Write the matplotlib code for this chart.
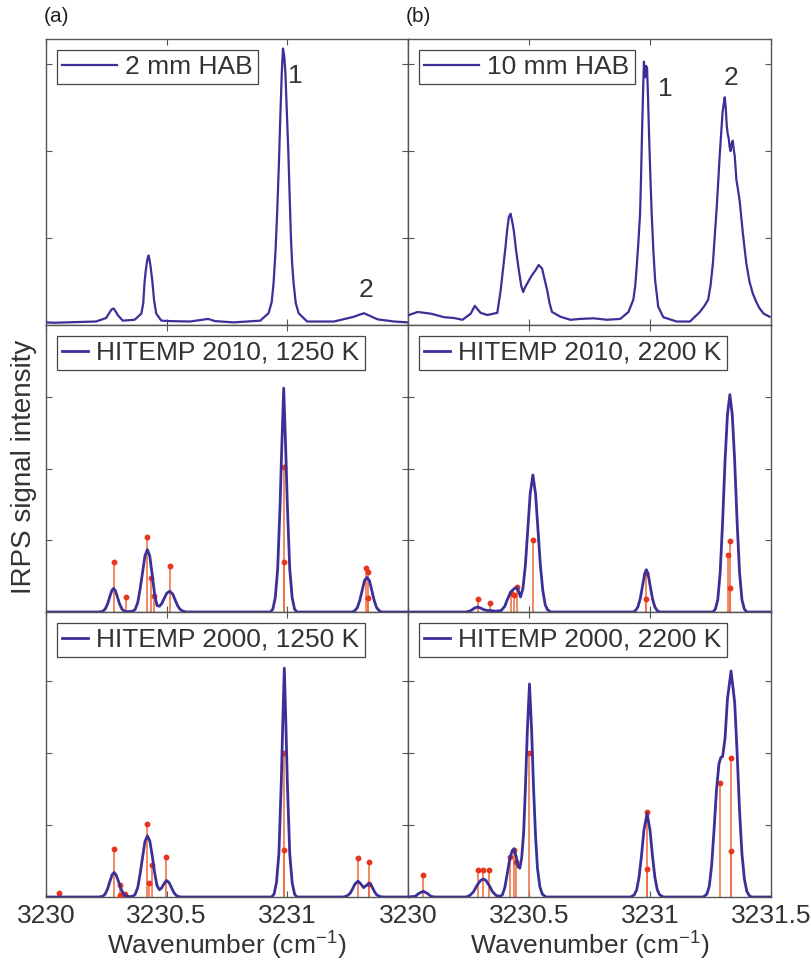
import matplotlib
matplotlib.use('Agg')
import matplotlib.pyplot as plt

plt.rcParams['font.family'] = ['Liberation Sans', 'DejaVu Sans']
plt.rcParams['mathtext.fontset'] = 'custom'
plt.rcParams['mathtext.rm'] = 'Liberation Sans'
plt.rcParams['mathtext.it'] = 'Liberation Sans'

# measured spectra (wavenumber, signal)
w_2mm = [3230.000, 3230.033, 3230.207, 3230.249, 3230.2625, 3230.272, 3230.280, 3230.288,
         3230.297, 3230.318, 3230.367, 3230.395, 3230.403, 3230.408, 3230.413, 3230.417,
         3230.421, 3230.425, 3230.429, 3230.433, 3230.440, 3230.448, 3230.457,
         3230.478, 3230.5125, 3230.596, 3230.672, 3230.700, 3230.776, 3230.8875, 3230.922,
         3230.935, 3230.943, 3230.951, 3230.958, 3230.965, 3230.971, 3230.977, 3230.982,
         3230.987, 3230.992, 3230.998, 3231.004, 3231.010, 3231.015, 3231.020, 3231.026,
         3231.035, 3231.047, 3231.082, 3231.193, 3231.276, 3231.300, 3231.318, 3231.346,
         3231.374, 3231.443, 3231.500]
s_2mm = [0.03, 0.026, 0.04, 0.08, 0.14, 0.18, 0.19, 0.16,
         0.115, 0.05, 0.06, 0.13, 0.25, 0.48, 0.62, 0.70,
         0.77, 0.80, 0.75, 0.68, 0.52, 0.28, 0.13,
         0.05, 0.045, 0.04, 0.07, 0.045, 0.03, 0.05, 0.135,
         0.26, 0.48, 0.85, 1.3, 1.85, 2.4, 2.9, 3.18,
         3.1, 2.9, 2.45, 2.0, 1.45, 1.0, 0.7, 0.48,
         0.25, 0.135, 0.04, 0.04, 0.095, 0.12, 0.135, 0.10,
         0.065, 0.04, 0.03]

w_10mm = [3230.004, 3230.040, 3230.095, 3230.149, 3230.191, 3230.225, 3230.259, 3230.276,
          3230.300, 3230.328, 3230.369, 3230.383, 3230.389, 3230.395, 3230.403, 3230.410,
          3230.417, 3230.424, 3230.430, 3230.437, 3230.447, 3230.458, 3230.468, 3230.476,
          3230.483, 3230.493, 3230.503, 3230.513, 3230.527, 3230.540, 3230.554, 3230.565,
          3230.575, 3230.585, 3230.595, 3230.630, 3230.671, 3230.712, 3230.767, 3230.822,
          3230.877, 3230.911, 3230.931, 3230.939, 3230.945, 3230.952, 3230.959, 3230.963,
          3230.967, 3230.971, 3230.975, 3230.978, 3230.981, 3230.984, 3230.988, 3230.992,
          3230.996, 3231.001, 3231.007, 3231.014, 3231.021, 3231.034, 3231.055, 3231.110,
          3231.165, 3231.206, 3231.225, 3231.240, 3231.250, 3231.260, 3231.267, 3231.274,
          3231.281, 3231.288, 3231.294, 3231.300, 3231.305, 3231.309, 3231.313, 3231.317,
          3231.321, 3231.325, 3231.329, 3231.333, 3231.337, 3231.342, 3231.346, 3231.350,
          3231.357, 3231.364, 3231.370, 3231.384, 3231.398, 3231.411, 3231.425, 3231.440,
          3231.453, 3231.470, 3231.494]
s_10mm = [0.115, 0.15, 0.13, 0.09, 0.08, 0.06, 0.13, 0.22,
          0.14, 0.115, 0.14, 0.40, 0.55, 0.70, 0.90, 1.1,
          1.245, 1.28, 1.2, 1.09, 0.85, 0.63, 0.45, 0.38,
          0.43, 0.48, 0.53, 0.575, 0.63, 0.69, 0.65, 0.52,
          0.40, 0.25, 0.15, 0.095, 0.06, 0.07, 0.077, 0.06,
          0.07, 0.15, 0.29, 0.45, 0.67, 0.95, 1.28, 1.7,
          2.2, 2.65, 3.03, 2.9, 2.85, 2.98, 2.95, 2.6,
          2.2, 1.75, 1.28, 0.85, 0.52, 0.21, 0.09, 0.04,
          0.04, 0.15, 0.22, 0.29, 0.45, 0.71, 1.0, 1.28,
          1.6, 1.95, 2.2, 2.45, 2.55, 2.62, 2.5, 2.30,
          2.2, 2.15, 2.05, 2.00, 2.08, 2.12, 2.02, 1.95,
          1.67, 1.55, 1.44, 1.05, 0.71, 0.5, 0.36, 0.26,
          0.19, 0.13, 0.095]

# simulated spectra
w_10_1250 = [3230.00, 3230.22, 3230.235, 3230.245, 3230.255, 3230.265, 3230.273, 3230.28,
             3230.287, 3230.295, 3230.305, 3230.315, 3230.325, 3230.335, 3230.36, 3230.37,
             3230.38, 3230.39, 3230.40, 3230.41, 3230.42, 3230.43, 3230.44, 3230.45,
             3230.46, 3230.47, 3230.48, 3230.49, 3230.50, 3230.5125, 3230.525, 3230.535,
             3230.545, 3230.555, 3230.565, 3230.58, 3230.93, 3230.94, 3230.95, 3230.96,
             3230.97, 3230.977, 3230.985, 3230.993, 3231.00, 3231.01, 3231.02, 3231.03,
             3231.04, 3231.27, 3231.28, 3231.29, 3231.30, 3231.31, 3231.32, 3231.33,
             3231.34, 3231.35, 3231.36, 3231.37, 3231.38, 3231.39, 3231.50]
s_10_1250 = [0, 0, 0.01, 0.04, 0.11, 0.22, 0.30, 0.33,
             0.30, 0.22, 0.11, 0.04, 0.012, 0.005, 0.01, 0.04,
             0.13, 0.32, 0.55, 0.78, 0.87, 0.78, 0.52, 0.25,
             0.09, 0.08, 0.12, 0.19, 0.26, 0.29, 0.25, 0.17,
             0.09, 0.04, 0.015, 0, 0, 0.04, 0.2, 0.6,
             1.5, 2.3, 3.12, 2.3, 1.5, 0.6, 0.2, 0.04,
             0, 0, 0.02, 0.06, 0.16, 0.30, 0.44, 0.48,
             0.44, 0.30, 0.16, 0.06, 0.02, 0, 0]

w_10_2200 = [3230.00, 3230.24, 3230.26, 3230.275, 3230.288, 3230.30, 3230.315, 3230.33,
             3230.345, 3230.36, 3230.385, 3230.40, 3230.41, 3230.425, 3230.44, 3230.45,
             3230.458, 3230.465, 3230.475, 3230.485, 3230.495, 3230.505, 3230.516, 3230.527,
             3230.537, 3230.547, 3230.557, 3230.567, 3230.577, 3230.59, 3230.93, 3230.94,
             3230.95, 3230.96, 3230.97, 3230.978, 3230.985, 3230.992, 3231.00, 3231.01,
             3231.02, 3231.03, 3231.04, 3231.26, 3231.27, 3231.28, 3231.29, 3231.30,
             3231.31, 3231.32, 3231.33, 3231.34, 3231.35, 3231.36, 3231.37, 3231.38,
             3231.39, 3231.40, 3231.50]
s_10_2200 = [0, 0, 0.02, 0.055, 0.07, 0.055, 0.03, 0.02,
             0.02, 0.01, 0.02, 0.08, 0.17, 0.28, 0.33, 0.34,
             0.28, 0.21, 0.33, 0.65, 1.15, 1.65, 1.91, 1.65,
             1.15, 0.65, 0.30, 0.10, 0.03, 0, 0, 0.02,
             0.07, 0.19, 0.38, 0.53, 0.59, 0.53, 0.38, 0.19,
             0.07, 0.02, 0, 0, 0.04, 0.17, 0.55, 1.25,
             2.1, 2.75, 3.03, 2.75, 2.1, 1.25, 0.55, 0.17,
             0.04, 0, 0]

w_00_1250 = [3230.00, 3230.22, 3230.235, 3230.245, 3230.255, 3230.265, 3230.274, 3230.282,
             3230.29, 3230.30, 3230.31, 3230.32, 3230.33, 3230.345, 3230.36, 3230.37,
             3230.38, 3230.39, 3230.40, 3230.41, 3230.42, 3230.43, 3230.44, 3230.45,
             3230.46, 3230.47, 3230.48, 3230.49, 3230.499, 3230.51, 3230.52, 3230.53,
             3230.54, 3230.555, 3230.935, 3230.945, 3230.955, 3230.965, 3230.975, 3230.981,
             3230.9875, 3230.994, 3231.00, 3231.01, 3231.02, 3231.03, 3231.04, 3231.23,
             3231.245, 3231.26, 3231.27, 3231.28, 3231.293, 3231.305, 3231.316, 3231.327,
             3231.339, 3231.35, 3231.36, 3231.37, 3231.385, 3231.40, 3231.50]
s_00_1250 = [0, 0, 0.01, 0.04, 0.11, 0.22, 0.31, 0.34,
             0.31, 0.22, 0.12, 0.05, 0.015, 0.005, 0.01, 0.04,
             0.13, 0.32, 0.55, 0.77, 0.85, 0.78, 0.58, 0.34,
             0.16, 0.10, 0.13, 0.19, 0.23, 0.20, 0.13, 0.06,
             0.02, 0, 0, 0.04, 0.2, 0.6, 1.6, 2.4,
             3.18, 2.4, 1.6, 0.6, 0.2, 0.04, 0, 0,
             0.01, 0.05, 0.11, 0.18, 0.22, 0.18, 0.13, 0.16,
             0.19, 0.15, 0.08, 0.03, 0.005, 0, 0]

w_00_2200 = [3230.00, 3230.03, 3230.045, 3230.063, 3230.08, 3230.095, 3230.11, 3230.24,
             3230.255, 3230.27, 3230.285, 3230.30, 3230.311, 3230.322, 3230.337, 3230.35,
             3230.365, 3230.38, 3230.39, 3230.40, 3230.41, 3230.42, 3230.43, 3230.438,
             3230.447, 3230.455, 3230.462, 3230.47, 3230.478, 3230.485, 3230.493, 3230.502,
             3230.511, 3230.519, 3230.527, 3230.535, 3230.545, 3230.555, 3230.57, 3230.92,
             3230.935, 3230.945, 3230.955, 3230.965, 3230.975, 3230.988, 3231.00, 3231.01,
             3231.02, 3231.03, 3231.04, 3231.055, 3231.22, 3231.235, 3231.245, 3231.255,
             3231.265, 3231.275, 3231.285, 3231.293, 3231.30, 3231.31, 3231.32, 3231.335,
             3231.35, 3231.36, 3231.37, 3231.38, 3231.39, 3231.40, 3231.41, 3231.42,
             3231.50]
s_00_2200 = [0.0, 0.01, 0.05, 0.08, 0.05, 0.01, 0, 0,
             0.02, 0.07, 0.16, 0.23, 0.25, 0.23, 0.15, 0.07,
             0.02, 0.01, 0.03, 0.13, 0.32, 0.52, 0.64, 0.67,
             0.56, 0.42, 0.40, 0.55, 0.9, 1.5, 2.3, 2.96,
             2.3, 1.5, 0.85, 0.4, 0.14, 0.04, 0, 0,
             0.03, 0.1, 0.28, 0.58, 0.93, 1.16, 0.93, 0.58,
             0.28, 0.1, 0.03, 0, 0, 0.04, 0.15, 0.45,
             0.95, 1.5, 1.85, 1.94, 1.95, 2.2, 2.75, 3.14,
             2.7, 2.0, 1.2, 0.6, 0.25, 0.08, 0.02, 0,
             0]

# line positions / intensities (sticks)
lw_10_1250 = [3230.280, 3230.330, 3230.418, 3230.435, 3230.446, 3230.5125, 3230.985, 3230.985,
              3231.324, 3231.333, 3231.335]
lh_10_1250 = [0.69, 0.205, 1.05, 0.48, 0.22, 0.64, 2.02, 0.69, 0.62, 0.56, 0.19]

lw_10_2200 = [3230.288, 3230.337, 3230.424, 3230.440, 3230.451, 3230.516, 3230.985, 3230.985,
              3231.321, 3231.332, 3231.332]
lh_10_2200 = [0.185, 0.125, 0.265, 0.23, 0.35, 1.01, 0.54, 0.185, 0.80, 0.99, 0.34]

lw_00_1250 = [3230.054, 3230.282, 3230.305, 3230.305, 3230.328, 3230.417, 3230.425, 3230.438,
              3230.499, 3230.9875, 3230.9875, 3231.293, 3231.339, 3231.339]
lh_00_1250 = [0.05, 0.67, 0.16, 0.03, 0.04, 1.02, 0.19, 0.45, 0.55, 2.0, 0.66, 0.54, 0.48, 0.18]

lw_00_2200 = [3230.063, 3230.289, 3230.311, 3230.333, 3230.423, 3230.438, 3230.446, 3230.502,
              3230.988, 3230.988, 3231.291, 3231.335, 3231.335]
lh_00_2200 = [0.30, 0.38, 0.38, 0.38, 0.56, 0.66, 0.48, 2.0, 1.18, 0.39, 1.58, 1.93, 0.64]

legend_txt = [['2 mm HAB', '10 mm HAB'],
              ['HITEMP 2010, 1250 K', 'HITEMP 2010, 2200 K'],
              ['HITEMP 2000, 1250 K', 'HITEMP 2000, 2200 K']]

blue = '#3b2f98'
orange = '#f36a3c'
red = '#e8351d'
gray = '#555555'
fs = 19

fig = plt.figure(figsize=(8.12, 9.68), dpi=100)

lefts = [46 / 812, 408 / 812]
widths = [362 / 812, 363 / 812]
bottoms = [1 - 325 / 968, 1 - 612 / 968, 1 - 897 / 968]
heights = [286 / 968, 287 / 968, 285 / 968]
ytops = [3.29, 4.0, 3.96]

curves = [[(w_2mm, s_2mm), (w_10mm, s_10mm)],
          [(w_10_1250, s_10_1250), (w_10_2200, s_10_2200)],
          [(w_00_1250, s_00_1250), (w_00_2200, s_00_2200)]]
sticks = [[None, None],
          [(lw_10_1250, lh_10_1250), (lw_10_2200, lh_10_2200)],
          [(lw_00_1250, lh_00_1250), (lw_00_2200, lh_00_2200)]]

for r in range(3):
    for c in range(2):
        ax = fig.add_axes([lefts[c], bottoms[r], widths[c], heights[r]])
        if sticks[r][c] is not None:
            sw, sh = sticks[r][c]
            ax.vlines(sw, 0, sh, color=orange, lw=1.1, zorder=2)
            ax.plot(sw, sh, 'o', color=red, ms=3.2, zorder=3)
        x, y = curves[r][c]
        ax.plot(x, y, color=blue, lw=1.6 if r == 0 else 2.0, zorder=4,
                label=legend_txt[r][c])
        ax.set_xlim(3230, 3231.5)
        ax.set_ylim(0, ytops[r])
        ax.set_xticks([3230, 3230.5, 3231, 3231.5])
        ax.set_yticks([1, 2, 3])
        ax.set_yticklabels([])
        if r == 2:
            if c == 0:
                ax.set_xticklabels(['3230', '3230.5', '3231', ''])
            else:
                ax.set_xticklabels(['3230', '3230.5', '3231', '3231.5'])
            ax.set_xlabel('Wavenumber (cm$^{-1}$)', fontsize=fs, color='#333333', labelpad=1)
        else:
            ax.set_xticklabels([])
        ax.tick_params(direction='in', length=4, width=0.8, color=gray,
                       top=True, right=True, labelsize=fs, labelcolor='#333333', pad=5)
        for sp in ax.spines.values():
            sp.set_color(gray)
            sp.set_linewidth(1.0)
        leg = ax.legend(loc='upper left', fontsize=fs, handlelength=2.1 if r == 0 else 1.0,
                        handletextpad=0.3, borderpad=0.2, borderaxespad=0.4,
                        fancybox=False, framealpha=1, edgecolor='#444444')
        leg.get_frame().set_linewidth(0.9)
        for t in leg.get_texts():
            t.set_color('#333333')
        if r == 0 and c == 0:
            ax.text(3231.033, 2.87, '1', fontsize=fs, color='#333333', ha='center', va='center')
            ax.text(3231.325, 0.40, '2', fontsize=fs, color='#333333', ha='center', va='center')
        if r == 0 and c == 1:
            ax.text(3231.062, 2.72, '1', fontsize=fs, color='#333333', ha='center', va='center')
            ax.text(3231.333, 2.84, '2', fontsize=fs, color='#333333', ha='center', va='center')

fig.text(44 / 812, 1 - 17 / 968, '(a)', fontsize=15, color='#222222', va='center')
fig.text(406 / 812, 1 - 17 / 968, '(b)', fontsize=15, color='#222222', va='center')
fig.text(24 / 812, 1 - 467 / 968, 'IRPS signal intensity', fontsize=20, color='#333333',
         rotation=90, ha='center', va='center')

fig.savefig('out.png', dpi=100)
